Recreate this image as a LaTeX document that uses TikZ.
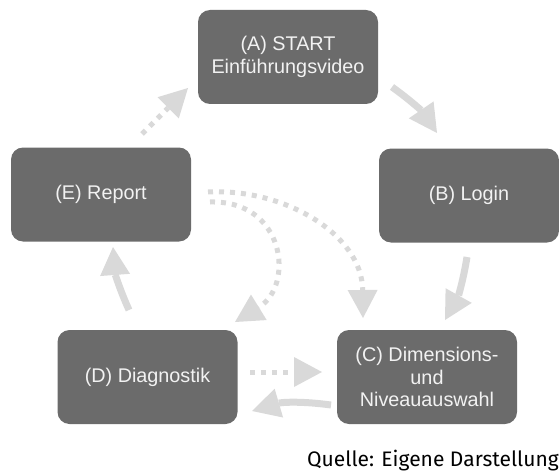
\documentclass[tikz,border=0pt]{standalone}
\usepackage{fontspec}
\setmainfont{Liberation Sans}
\newfontfamily\srcfont{Fira Sans}
\usetikzlibrary{arrows.meta}
\definecolor{boxgray}{HTML}{6B6B6B}
\definecolor{txtgray}{HTML}{F2F2F2}
\definecolor{arrgray}{HTML}{D9D9D9}
\begin{document}
\begin{tikzpicture}[x=1pt,y=-1pt,
  stepbox/.style={fill=boxgray, rounded corners=12pt, minimum width=180pt, minimum height=94pt,
    text=txtgray, font=\fontsize{19.8}{22.5}\selectfont, align=center, inner sep=0pt},
  tiphead/.style={-{Triangle[length=28pt,width=30pt,line width=0pt]}},
  solidarr/.style={draw=arrgray, line width=7pt, tiphead},
  dotarr/.style={draw=arrgray, line width=5pt, dash pattern=on 5pt off 6pt, tiphead}]
\useasboundingbox (0,0) rectangle (559,476);

\node[stepbox] (A) at (288,57) {(A) START\\Einführungsvideo};
\node[stepbox] (B) at (469,195.5) {(B) Login};
\node[stepbox] (C) at (427,377) {(C) Dimensions-\\und\\Niveauauswahl};
\node[stepbox] (D) at (147.5,377) {(D) Diagnostik};
\node[stepbox] (E) at (101,194.5) {(E) Report};

\coordinate (ab1) at (392,87);   \coordinate (ab2) at (437,133);
\coordinate (bc1) at (467,257);  \coordinate (bc2) at (445,320);
\coordinate (cd1) at (331,405);  \coordinate (cd2) at (252,411);
\coordinate (dc1) at (250,372);  \coordinate (dc2) at (322,372);
\coordinate (de1) at (129,310);  \coordinate (de2) at (113,247);
\coordinate (ea1) at (142,134);  \coordinate (ea2) at (188,88);
\coordinate (ec1) at (208,192);  \coordinate (ec2) at (363,318);
\coordinate (ed1) at (210,202);  \coordinate (ed2) at (235,322);

\draw[solidarr] (ab1) to[bend left=10] (ab2);
\draw[solidarr] (bc1) to[bend left=10] (bc2);
\draw[solidarr] (cd1) to[bend right=12] (cd2);
\draw[solidarr] (de1) to[bend left=10] (de2);
\draw[dotarr] (dc1) -- (dc2);
\draw[dotarr] (ea1) -- (ea2);
\draw[dotarr] (ec1) .. controls (285,188) and (362,235) .. (ec2);
\draw[dotarr] (ed1) .. controls (285,200) and (295,285) .. (ed2);

\node[font=\srcfont\fontsize{21}{23}\selectfont, anchor=base east, inner sep=0pt] (src) at (559,466) {Quelle: Eigene Darstellung};
\end{tikzpicture}
\end{document}
